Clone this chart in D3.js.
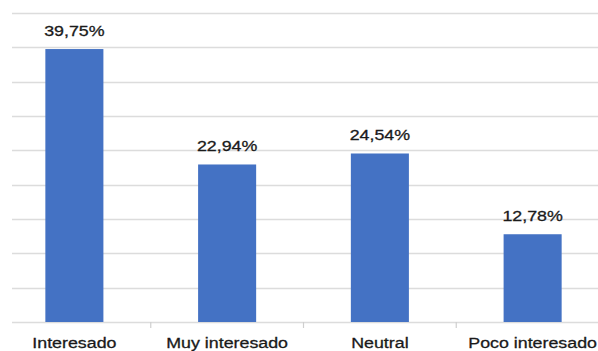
<!DOCTYPE html>
<html>
<head>
<meta charset="utf-8">
<script src="https://cdn.jsdelivr.net/npm/d3@7"></script>
<style>
  html, body { margin: 0; padding: 0; background: #fff; }
  svg { display: block; }
  text { font-family: "Liberation Sans", Arial, sans-serif; fill: #1a1a1a; stroke: #1a1a1a; stroke-width: 0.3px; }
</style>
</head>
<body>
<svg id="chart" width="598" height="351"></svg>
<script>
// Interest level of respondents (percent)
const categories = ["Interesado", "Muy interesado", "Neutral", "Poco interesado"];
const values = [39.75, 22.94, 24.54, 12.78];
const valueLabels = ["39,75%", "22,94%", "24,54%", "12,78%"];
const gridTicks = [0, 5, 10, 15, 20, 25, 30, 35, 40, 45];

const svg = d3.select("#chart");
const W = 598, H = 351;
const plotLeft = 12, baseY = 322, topY = 13;

const x = d3.scaleBand()
  .domain(categories)
  .range([-2, 609])
  .paddingInner(0.62)
  .paddingOuter(0.31);

const y = d3.scaleLinear()
  .domain([0, 45])
  .range([baseY, topY]);

// horizontal gridlines
svg.append("g")
  .selectAll("line")
  .data(gridTicks)
  .join("line")
  .attr("x1", plotLeft)
  .attr("x2", W + 10)
  .attr("y1", d => Math.round(y(d)) + 0.5)
  .attr("y2", d => Math.round(y(d)) + 0.5)
  .attr("stroke", "#dcdcdc")
  .attr("stroke-width", 1.6);

// category axis with ticks between bands
const step = x.step();
const boundaries = categories.slice(1).map(c => x(c) - x.paddingInner() * step / 2);
svg.append("g")
  .selectAll("line")
  .data(boundaries)
  .join("line")
  .attr("x1", d => d)
  .attr("x2", d => d)
  .attr("y1", baseY)
  .attr("y2", baseY + 6)
  .attr("stroke", "#cfcfcf")
  .attr("stroke-width", 1.2);

// bars
svg.append("g")
  .selectAll("rect")
  .data(values)
  .join("rect")
  .attr("x", (d, i) => x(categories[i]))
  .attr("y", d => y(d))
  .attr("width", x.bandwidth())
  .attr("height", d => baseY - y(d))
  .attr("fill", "#4472C4");

// value labels
const sx = 1.15;
svg.append("g")
  .selectAll("text")
  .data(values)
  .join("text")
  .attr("transform", (d, i) => `translate(${x(categories[i]) + x.bandwidth() / 2},${y(d) - 13}) scale(${sx},1)`)
  .attr("text-anchor", "middle")
  .style("font-size", "15.5px")
  .text((d, i) => valueLabels[i]);

// category labels
svg.append("g")
  .selectAll("text")
  .data(categories)
  .join("text")
  .attr("transform", d => `translate(${x(d) + x.bandwidth() / 2},${348}) scale(${sx},1)`)
  .attr("text-anchor", "middle")
  .style("font-size", "15.5px")
  .text(d => d);
</script>
</body>
</html>
